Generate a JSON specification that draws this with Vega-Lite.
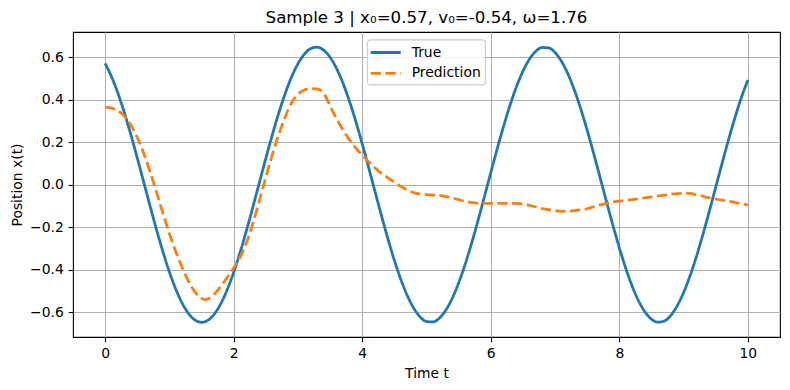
{
  "$schema": "https://vega.github.io/schema/vega-lite/v6.json",
  "autosize": {"type": "none"},
  "width": 707,
  "height": 305,
  "padding": {"left": 73, "top": 32, "right": 10, "bottom": 53},
  "background": "white",
  "title": {
    "text": "Sample 3 | x₀=0.57, v₀=-0.54, ω=1.76",
    "font": "DejaVu Sans",
    "fontSize": 16.67,
    "fontWeight": "normal",
    "color": "black",
    "anchor": "middle",
    "offset": 5
  },
  "config": {
    "view": {"stroke": "black", "strokeWidth": 1.1},
    "axis": {
      "labelFont": "DejaVu Sans",
      "labelFontSize": 13.9,
      "labelColor": "black",
      "titleFont": "DejaVu Sans",
      "titleFontSize": 13.9,
      "titleFontWeight": "normal",
      "titleColor": "black",
      "tickColor": "black",
      "tickSize": 4.86,
      "tickWidth": 1.1,
      "labelPadding": 4.86,
      "domain": false,
      "grid": true,
      "gridColor": "#b0b0b0",
      "gridWidth": 1.1
    },
    "legend": {
      "orient": "none",
      "legendX": 294,
      "legendY": 7.5,
      "title": null,
      "fillColor": "rgba(255,255,255,0.8)",
      "strokeColor": "#cccccc",
      "strokeWidth": 1.1,
      "cornerRadius": 3,
      "padding": 4,
      "labelFont": "DejaVu Sans",
      "labelFontSize": 13.9,
      "labelColor": "black",
      "symbolType": "M-2,0H2",
      "symbolSize": 225,
      "symbolStrokeWidth": 2.78,
      "symbolOffset": 5.7,
      "labelOffset": 17,
      "rowPadding": 4.8
    }
  },
  "datasets": {
    "truth": [
      {"t": 0.0, "x": 0.570, "series": "True"},
      {"t": 0.1, "x": 0.5074, "series": "True"},
      {"t": 0.2, "x": 0.4293, "series": "True"},
      {"t": 0.3, "x": 0.3376, "series": "True"},
      {"t": 0.4, "x": 0.2354, "series": "True"},
      {"t": 0.5, "x": 0.1259, "series": "True"},
      {"t": 0.6, "x": 0.0125, "series": "True"},
      {"t": 0.7, "x": -0.1012, "series": "True"},
      {"t": 0.8, "x": -0.2118, "series": "True"},
      {"t": 0.9, "x": -0.3159, "series": "True"},
      {"t": 1.0, "x": -0.4101, "series": "True"},
      {"t": 1.1, "x": -0.4916, "series": "True"},
      {"t": 1.2, "x": -0.5578, "series": "True"},
      {"t": 1.3, "x": -0.6067, "series": "True"},
      {"t": 1.4, "x": -0.6367, "series": "True"},
      {"t": 1.5, "x": -0.6469, "series": "True"},
      {"t": 1.6, "x": -0.6370, "series": "True"},
      {"t": 1.7, "x": -0.6074, "series": "True"},
      {"t": 1.8, "x": -0.5589, "series": "True"},
      {"t": 1.9, "x": -0.4929, "series": "True"},
      {"t": 2.0, "x": -0.4119, "series": "True"},
      {"t": 2.1, "x": -0.3178, "series": "True"},
      {"t": 2.2, "x": -0.2138, "series": "True"},
      {"t": 2.3, "x": -0.1033, "series": "True"},
      {"t": 2.4, "x": 0.0104, "series": "True"},
      {"t": 2.5, "x": 0.1239, "series": "True"},
      {"t": 2.6, "x": 0.2334, "series": "True"},
      {"t": 2.7, "x": 0.3357, "series": "True"},
      {"t": 2.8, "x": 0.4274, "series": "True"},
      {"t": 2.9, "x": 0.5063, "series": "True"},
      {"t": 3.0, "x": 0.5690, "series": "True"},
      {"t": 3.1, "x": 0.6142, "series": "True"},
      {"t": 3.2, "x": 0.6403, "series": "True"},
      {"t": 3.3, "x": 0.6465, "series": "True"},
      {"t": 3.4, "x": 0.6327, "series": "True"},
      {"t": 3.5, "x": 0.5991, "series": "True"},
      {"t": 3.6, "x": 0.5469, "series": "True"},
      {"t": 3.7, "x": 0.4778, "series": "True"},
      {"t": 3.8, "x": 0.3938, "series": "True"},
      {"t": 3.9, "x": 0.2975, "series": "True"},
      {"t": 4.0, "x": 0.1921, "series": "True"},
      {"t": 4.1, "x": 0.0806, "series": "True"},
      {"t": 4.2, "x": -0.0334, "series": "True"},
      {"t": 4.3, "x": -0.1463, "series": "True"},
      {"t": 4.4, "x": -0.2547, "series": "True"},
      {"t": 4.5, "x": -0.3552, "series": "True"},
      {"t": 4.6, "x": -0.4446, "series": "True"},
      {"t": 4.7, "x": -0.5202, "series": "True"},
      {"t": 4.8, "x": -0.5796, "series": "True"},
      {"t": 4.9, "x": -0.6210, "series": "True"},
      {"t": 5.0, "x": -0.6432, "series": "True"},
      {"t": 5.1, "x": -0.6453, "series": "True"},
      {"t": 5.2, "x": -0.6274, "series": "True"},
      {"t": 5.3, "x": -0.5900, "series": "True"},
      {"t": 5.4, "x": -0.5343, "series": "True"},
      {"t": 5.5, "x": -0.4618, "series": "True"},
      {"t": 5.6, "x": -0.3753, "series": "True"},
      {"t": 5.7, "x": -0.2770, "series": "True"},
      {"t": 5.8, "x": -0.1700, "series": "True"},
      {"t": 5.9, "x": -0.0577, "series": "True"},
      {"t": 6.0, "x": 0.0563, "series": "True"},
      {"t": 6.1, "x": 0.1685, "series": "True"},
      {"t": 6.2, "x": 0.2756, "series": "True"},
      {"t": 6.3, "x": 0.3741, "series": "True"},
      {"t": 6.4, "x": 0.4608, "series": "True"},
      {"t": 6.5, "x": 0.5335, "series": "True"},
      {"t": 6.6, "x": 0.5895, "series": "True"},
      {"t": 6.7, "x": 0.6271, "series": "True"},
      {"t": 6.8, "x": 0.6452, "series": "True"},
      {"t": 6.9, "x": 0.6433, "series": "True"},
      {"t": 7.0, "x": 0.6215, "series": "True"},
      {"t": 7.1, "x": 0.5803, "series": "True"},
      {"t": 7.2, "x": 0.5210, "series": "True"},
      {"t": 7.3, "x": 0.4457, "series": "True"},
      {"t": 7.4, "x": 0.3564, "series": "True"},
      {"t": 7.5, "x": 0.2560, "series": "True"},
      {"t": 7.6, "x": 0.1478, "series": "True"},
      {"t": 7.7, "x": 0.0349, "series": "True"},
      {"t": 7.8, "x": -0.0791, "series": "True"},
      {"t": 7.9, "x": -0.1906, "series": "True"},
      {"t": 8.0, "x": -0.2962, "series": "True"},
      {"t": 8.1, "x": -0.3926, "series": "True"},
      {"t": 8.2, "x": -0.4770, "series": "True"},
      {"t": 8.3, "x": -0.5462, "series": "True"},
      {"t": 8.4, "x": -0.5985, "series": "True"},
      {"t": 8.5, "x": -0.6323, "series": "True"},
      {"t": 8.6, "x": -0.6465, "series": "True"},
      {"t": 8.7, "x": -0.6406, "series": "True"},
      {"t": 8.8, "x": -0.6147, "series": "True"},
      {"t": 8.9, "x": -0.5697, "series": "True"},
      {"t": 9.0, "x": -0.5070, "series": "True"},
      {"t": 9.1, "x": -0.4287, "series": "True"},
      {"t": 9.2, "x": -0.3369, "series": "True"},
      {"t": 9.3, "x": -0.2348, "series": "True"},
      {"t": 9.4, "x": -0.1253, "series": "True"},
      {"t": 9.5, "x": -0.0118, "series": "True"},
      {"t": 9.6, "x": 0.1019, "series": "True"},
      {"t": 9.7, "x": 0.2124, "series": "True"},
      {"t": 9.8, "x": 0.3163, "series": "True"},
      {"t": 9.9, "x": 0.4106, "series": "True"},
      {"t": 10.0, "x": 0.4920, "series": "True"}
    ],
    "pred": [
      {"t": 0.0, "x": 0.365, "series": "Prediction"},
      {"t": 0.1, "x": 0.360, "series": "Prediction"},
      {"t": 0.2, "x": 0.348, "series": "Prediction"},
      {"t": 0.3, "x": 0.322, "series": "Prediction"},
      {"t": 0.4, "x": 0.280, "series": "Prediction"},
      {"t": 0.5, "x": 0.222, "series": "Prediction"},
      {"t": 0.6, "x": 0.148, "series": "Prediction"},
      {"t": 0.7, "x": 0.060, "series": "Prediction"},
      {"t": 0.8, "x": -0.035, "series": "Prediction"},
      {"t": 0.9, "x": -0.135, "series": "Prediction"},
      {"t": 1.0, "x": -0.230, "series": "Prediction"},
      {"t": 1.1, "x": -0.315, "series": "Prediction"},
      {"t": 1.2, "x": -0.390, "series": "Prediction"},
      {"t": 1.3, "x": -0.455, "series": "Prediction"},
      {"t": 1.4, "x": -0.505, "series": "Prediction"},
      {"t": 1.5, "x": -0.534, "series": "Prediction"},
      {"t": 1.55, "x": -0.540, "series": "Prediction"},
      {"t": 1.6, "x": -0.537, "series": "Prediction"},
      {"t": 1.7, "x": -0.514, "series": "Prediction"},
      {"t": 1.8, "x": -0.477, "series": "Prediction"},
      {"t": 1.9, "x": -0.435, "series": "Prediction"},
      {"t": 2.0, "x": -0.392, "series": "Prediction"},
      {"t": 2.1, "x": -0.340, "series": "Prediction"},
      {"t": 2.2, "x": -0.272, "series": "Prediction"},
      {"t": 2.3, "x": -0.180, "series": "Prediction"},
      {"t": 2.4, "x": -0.075, "series": "Prediction"},
      {"t": 2.5, "x": 0.035, "series": "Prediction"},
      {"t": 2.6, "x": 0.140, "series": "Prediction"},
      {"t": 2.7, "x": 0.235, "series": "Prediction"},
      {"t": 2.8, "x": 0.318, "series": "Prediction"},
      {"t": 2.9, "x": 0.385, "series": "Prediction"},
      {"t": 3.0, "x": 0.425, "series": "Prediction"},
      {"t": 3.1, "x": 0.445, "series": "Prediction"},
      {"t": 3.2, "x": 0.452, "series": "Prediction"},
      {"t": 3.3, "x": 0.450, "series": "Prediction"},
      {"t": 3.4, "x": 0.430, "series": "Prediction"},
      {"t": 3.5, "x": 0.370, "series": "Prediction"},
      {"t": 3.6, "x": 0.310, "series": "Prediction"},
      {"t": 3.7, "x": 0.258, "series": "Prediction"},
      {"t": 3.8, "x": 0.212, "series": "Prediction"},
      {"t": 3.9, "x": 0.172, "series": "Prediction"},
      {"t": 4.0, "x": 0.140, "series": "Prediction"},
      {"t": 4.1, "x": 0.107, "series": "Prediction"},
      {"t": 4.2, "x": 0.078, "series": "Prediction"},
      {"t": 4.3, "x": 0.053, "series": "Prediction"},
      {"t": 4.4, "x": 0.032, "series": "Prediction"},
      {"t": 4.5, "x": 0.012, "series": "Prediction"},
      {"t": 4.6, "x": -0.008, "series": "Prediction"},
      {"t": 4.7, "x": -0.025, "series": "Prediction"},
      {"t": 4.8, "x": -0.037, "series": "Prediction"},
      {"t": 4.9, "x": -0.044, "series": "Prediction"},
      {"t": 5.0, "x": -0.047, "series": "Prediction"},
      {"t": 5.2, "x": -0.050, "series": "Prediction"},
      {"t": 5.4, "x": -0.062, "series": "Prediction"},
      {"t": 5.6, "x": -0.078, "series": "Prediction"},
      {"t": 5.8, "x": -0.087, "series": "Prediction"},
      {"t": 6.0, "x": -0.088, "series": "Prediction"},
      {"t": 6.2, "x": -0.088, "series": "Prediction"},
      {"t": 6.4, "x": -0.088, "series": "Prediction"},
      {"t": 6.6, "x": -0.097, "series": "Prediction"},
      {"t": 6.8, "x": -0.112, "series": "Prediction"},
      {"t": 7.0, "x": -0.122, "series": "Prediction"},
      {"t": 7.1, "x": -0.125, "series": "Prediction"},
      {"t": 7.3, "x": -0.122, "series": "Prediction"},
      {"t": 7.5, "x": -0.113, "series": "Prediction"},
      {"t": 7.7, "x": -0.095, "series": "Prediction"},
      {"t": 7.9, "x": -0.082, "series": "Prediction"},
      {"t": 8.1, "x": -0.074, "series": "Prediction"},
      {"t": 8.3, "x": -0.066, "series": "Prediction"},
      {"t": 8.5, "x": -0.057, "series": "Prediction"},
      {"t": 8.7, "x": -0.049, "series": "Prediction"},
      {"t": 8.9, "x": -0.042, "series": "Prediction"},
      {"t": 9.05, "x": -0.040, "series": "Prediction"},
      {"t": 9.2, "x": -0.047, "series": "Prediction"},
      {"t": 9.4, "x": -0.062, "series": "Prediction"},
      {"t": 9.6, "x": -0.073, "series": "Prediction"},
      {"t": 9.8, "x": -0.083, "series": "Prediction"},
      {"t": 10.0, "x": -0.096, "series": "Prediction"}
    ]
  },
  "encoding": {
    "x": {
      "field": "t",
      "type": "quantitative",
      "scale": {"domain": [-0.5, 10.5], "nice": false, "zero": false},
      "axis": {"title": "Time t", "values": [0, 2, 4, 6, 8, 10], "format": "d", "titlePadding": 6}
    },
    "y": {
      "field": "x",
      "type": "quantitative",
      "scale": {"domain": [-0.716, 0.718], "nice": false, "zero": false},
      "axis": {
        "title": "Position x(t)",
        "values": [-0.6, -0.4, -0.2, 0, 0.2, 0.4, 0.6],
        "labelExpr": "replace(format(datum.value, '.1f'), '-', '−')",
        "titlePadding": 5
      }
    },
    "color": {
      "field": "series",
      "type": "nominal",
      "scale": {"domain": ["True", "Prediction"], "range": ["#1f77b4", "#ff7f0e"]},
      "legend": {"title": null}
    },
    "strokeDash": {
      "field": "series",
      "type": "nominal",
      "scale": {"domain": ["True", "Prediction"], "range": [[1, 0], [10.3, 4.4]]},
      "legend": {"title": null}
    }
  },
  "layer": [
    {
      "data": {"name": "truth"},
      "mark": {"type": "line", "strokeWidth": 2.78, "interpolate": "monotone"}
    },
    {
      "data": {"name": "pred"},
      "mark": {"type": "line", "strokeWidth": 2.78, "interpolate": "monotone"}
    }
  ]
}
